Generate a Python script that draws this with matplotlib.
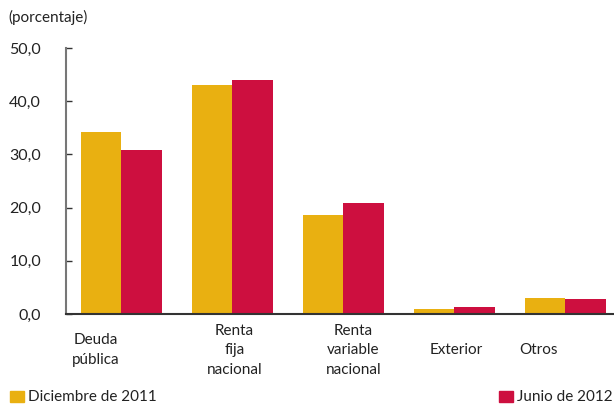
import numpy as np
import matplotlib.pyplot as plt
from matplotlib.patches import Rectangle

plt.rcParams['font.family'] = ['Lato', 'DejaVu Sans']

categorias = ['Deuda\npública', 'Renta\nfija\nnacional', 'Renta\nvariable\nnacional', 'Exterior', 'Otros']
dic_2011 = [34.3, 43.0, 18.6, 1.0, 3.0]
jun_2012 = [30.9, 44.0, 20.8, 1.4, 2.8]
yticks = [0, 10, 20, 30, 40, 50]
ytick_labels = ['0,0', '10,0', '20,0', '30,0', '40,0', '50,0']

# posicion de las etiquetas (no estan centradas en cada grupo)
pos_etiquetas = [-0.23, 1.02, 2.09, 3.02, 3.76]

amarillo = '#E9B011'
rojo = '#CD0F3F'

fig = plt.figure(figsize=(6.14, 4.08), dpi=100)
ax = fig.add_axes([66 / 614, 1 - 314 / 408, 1 - 66 / 614, 266 / 408])

x = np.arange(len(categorias))
w = 0.365
ax.bar(x - w / 2, dic_2011, width=w, color=amarillo)
ax.bar(x + w / 2, jun_2012, width=w, color=rojo)

ax.set_xlim(-0.5, 4.44)
ax.set_ylim(0, 50)
ax.set_yticks(yticks)
ax.set_yticklabels(ytick_labels, fontsize=11.5, color='#222222')
ax.tick_params(axis='y', direction='in', length=4, width=1, color='#333333', pad=18)
ax.set_xticks([])

for s in ['top', 'right']:
    ax.spines[s].set_visible(False)
ax.spines['left'].set_color('#777777')
ax.spines['left'].set_linewidth(1.5)
ax.spines['bottom'].set_color('#333333')
ax.spines['bottom'].set_linewidth(1.5)

# etiquetas de categorias
for p, c in zip(pos_etiquetas, categorias):
    ax.text(p, -6.8, c, ha='center', va='center', fontsize=11, color='#222222',
            linespacing=1.5, clip_on=False)

fig.text(8 / 614, 1 - 17 / 408, '(porcentaje)', fontsize=11, color='#222222',
         ha='left', va='center')

# leyenda
fig.patches.append(Rectangle((10 / 614, 1 - 402 / 408), 14 / 614, 11 / 408,
                             transform=fig.transFigure, color=amarillo))
fig.text(28 / 614, 1 - 397 / 408, 'Diciembre de 2011', fontsize=11, color='#222222',
         ha='left', va='center')
fig.patches.append(Rectangle((499 / 614, 1 - 402 / 408), 14 / 614, 11 / 408,
                             transform=fig.transFigure, color=rojo))
fig.text(517 / 614, 1 - 397 / 408, 'Junio de 2012', fontsize=11, color='#222222',
         ha='left', va='center')

fig.savefig('out.png', dpi=100)
